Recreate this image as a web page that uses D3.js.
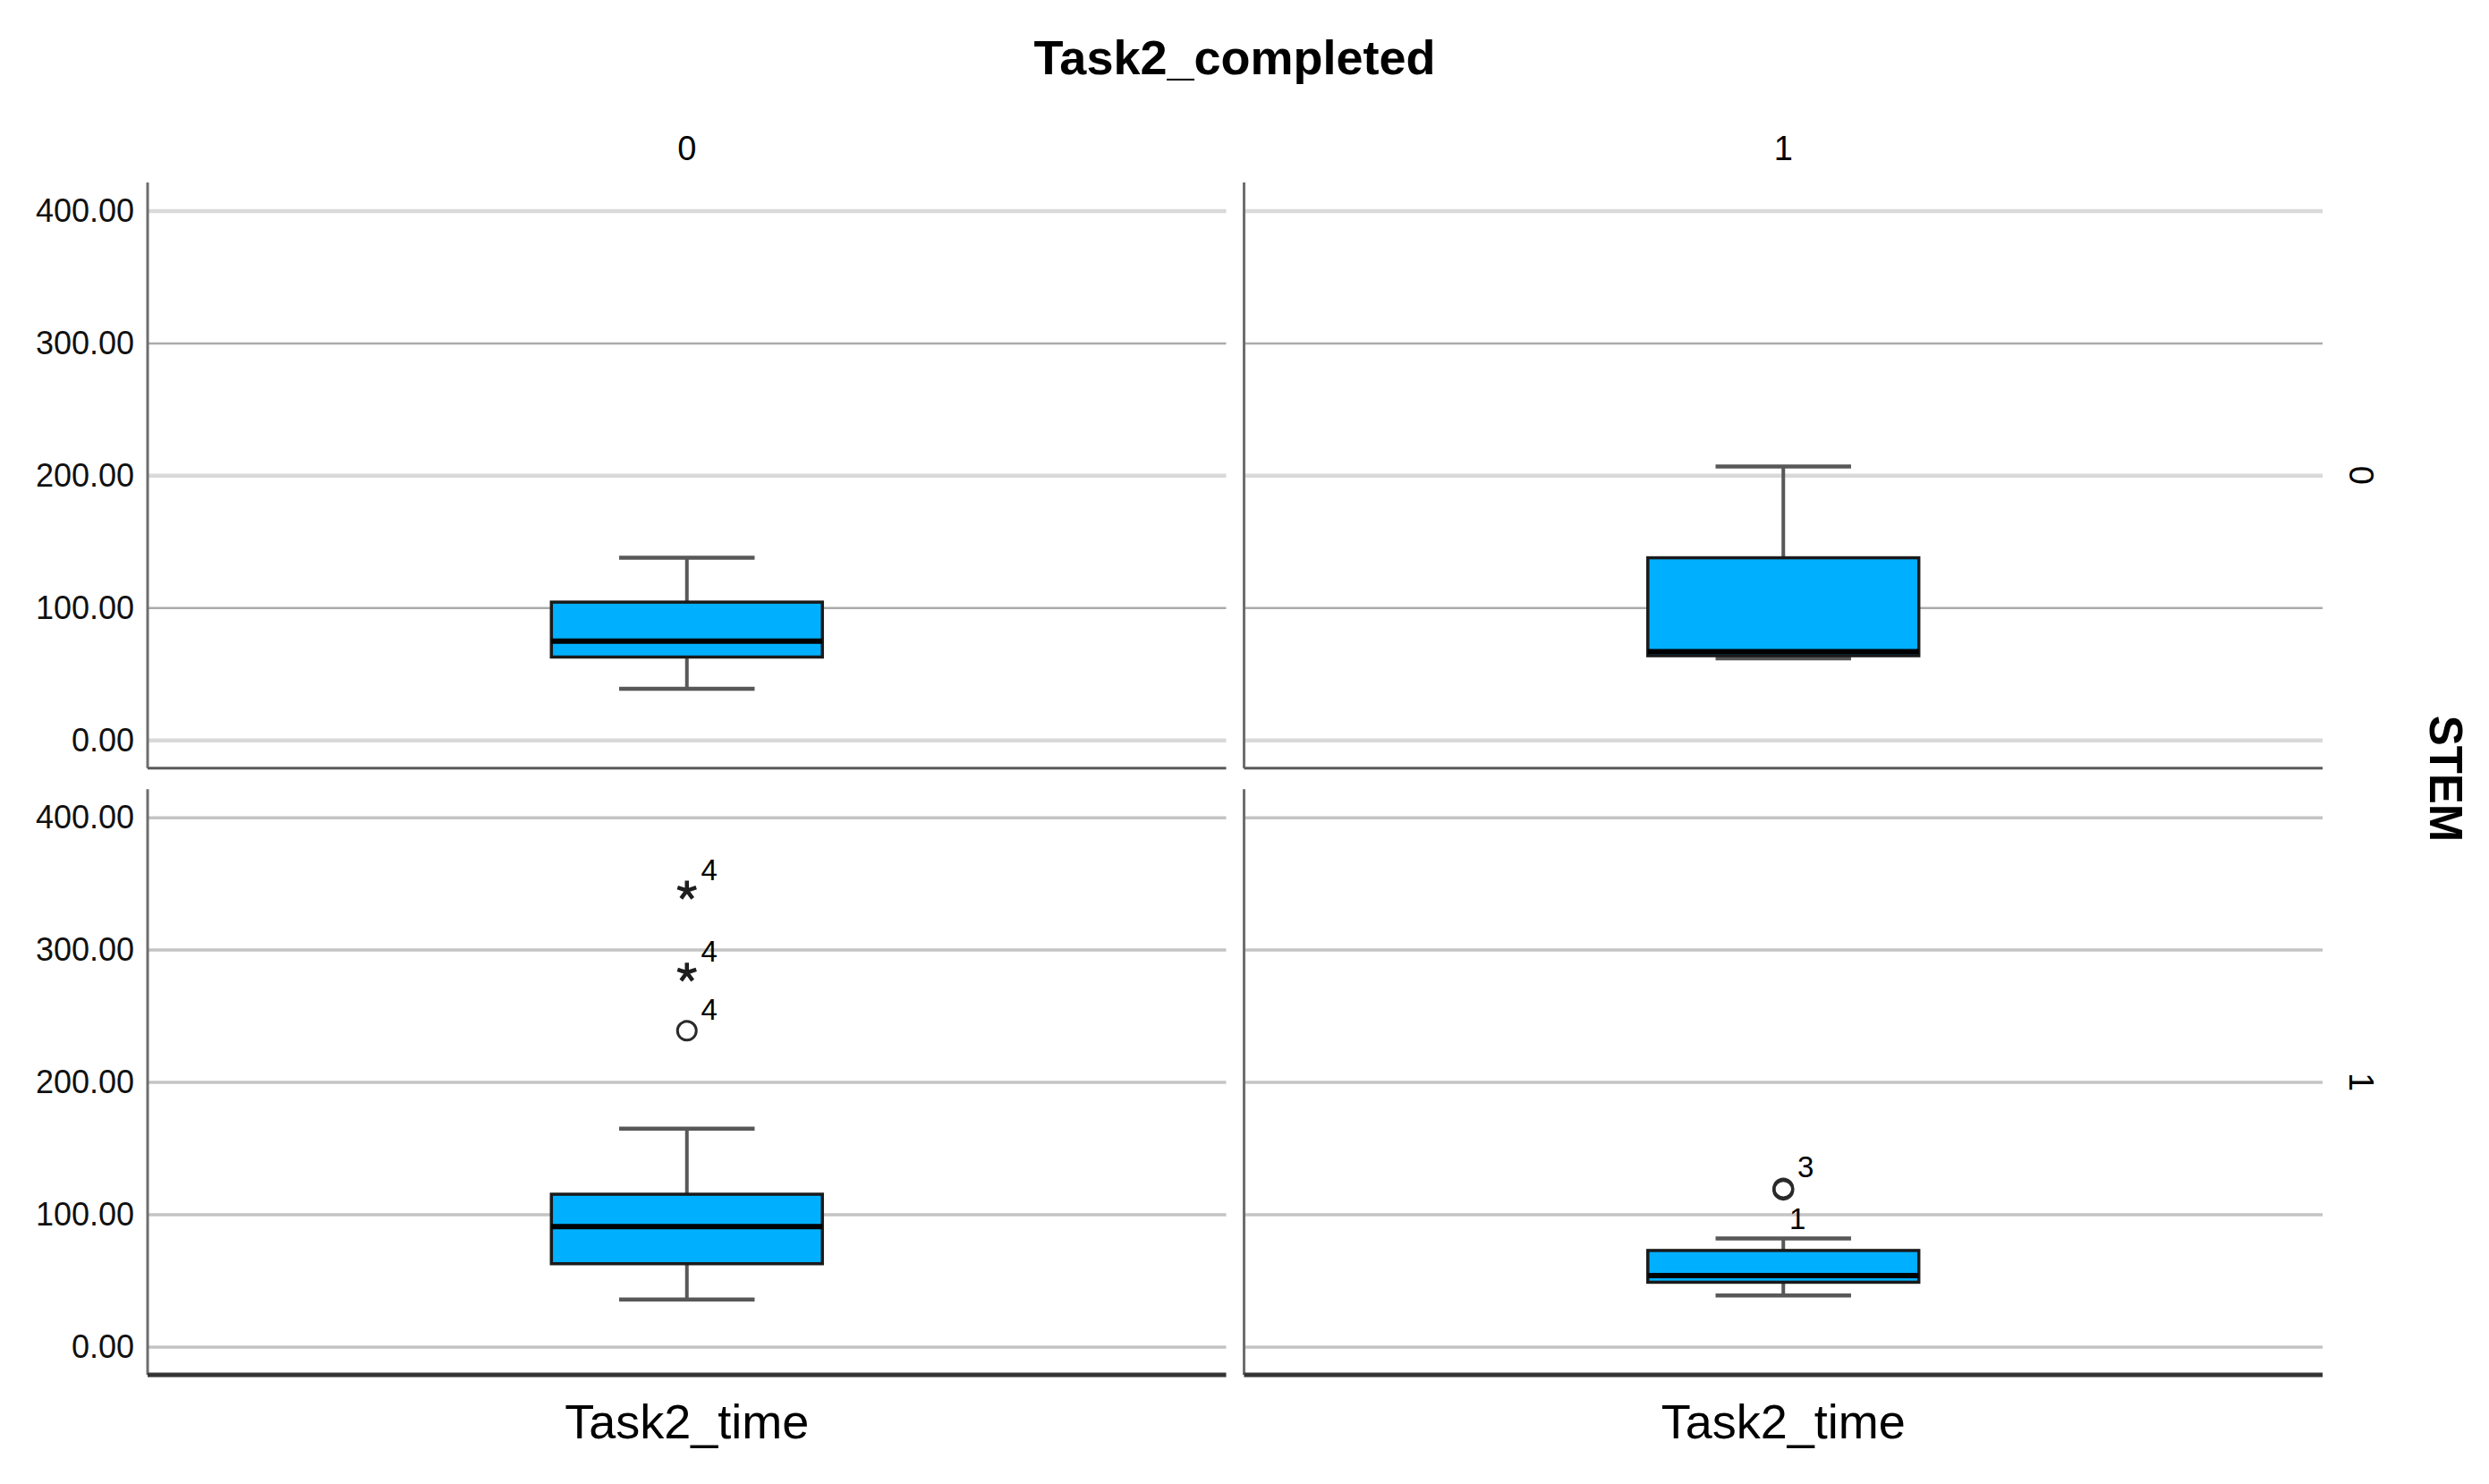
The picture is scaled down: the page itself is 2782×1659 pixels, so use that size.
<!DOCTYPE html>
<html><head><meta charset="utf-8">
<script src="https://cdn.jsdelivr.net/npm/d3@7"></script>
<style>
html,body{margin:0;padding:0;background:#fff;}
svg{display:block;font-family:"Liberation Sans",Arial,sans-serif;}
</style></head>
<body>
<svg id="chart" width="2782" height="1659"></svg>
<script>
// ---- data ----
const title = "Task2_completed";
const rowTitle = "STEM";
const completedCats = ["0", "1"];
const stemCats = ["0", "1"];
const variableName = ["Task2_time"];
const yTicks = [0, 100, 200, 300, 400];
// panels in order: (STEM 0, completed 0), (STEM 0, completed 1), (STEM 1, completed 0), (STEM 1, completed 1)
const panelStem = ["0", "0", "1", "1"];
const panelCompleted = ["0", "1", "0", "1"];
const whiskerMin = [39, 62, 36, 39];
const q1 = [63, 64, 63, 49];
const median = [75, 67, 91, 54];
const q3 = [104.5, 138, 115.5, 73];
const whiskerMax = [138, 207, 165, 82];
// outliers
const outlierPanel = [2, 2, 2, 3, 3];
const outlierValue = [345, 283, 239, 120, 119];
const outlierType = ["extreme", "extreme", "mild", "mild", "mild"];
const outlierLabel = ["4", "4", "4", "3", "1"];

// ---- layout ----
const svg = d3.select("#chart");
const colX = d3.scaleBand().domain(completedCats).range([165, 2596]).paddingInner(40 / 2451);
const rowY = d3.scaleBand().domain(stemCats).range([204, 1537]).paddingInner(23 / 666);
const yDomain = [-21, 421.6];

const fmt = d3.format(".2f");

// title
svg.append("text").attr("x", 1380).attr("y", 83).attr("text-anchor", "middle")
  .attr("font-size", 54).attr("font-weight", "bold").attr("fill", "#000").text(title);

completedCats.forEach(c => {
  svg.append("text").attr("x", colX(c) + colX.bandwidth() / 2).attr("y", 179)
    .attr("text-anchor", "middle").attr("font-size", 38).attr("fill", "#000").text(c);
  svg.append("text").attr("x", colX(c) + colX.bandwidth() / 2).attr("y", 1608)
    .attr("text-anchor", "middle").attr("font-size", 54).attr("fill", "#000").text(variableName[0]);
});

stemCats.forEach(s => {
  const cy = rowY(s) + rowY.bandwidth() / 2;
  svg.append("text").attr("transform", `translate(2626,${cy}) rotate(90)`)
    .attr("text-anchor", "middle").attr("font-size", 38).attr("fill", "#000").text(s);
});
svg.append("text").attr("transform", `translate(2716,${(204 + 1537) / 2}) rotate(90)`)
  .attr("text-anchor", "middle").attr("font-size", 51).attr("font-weight", "bold").attr("fill", "#000").text(rowTitle);

// panels
const yScales = {};
stemCats.forEach(s => {
  yScales[s] = d3.scaleLinear().domain(yDomain).range([rowY(s) + rowY.bandwidth(), rowY(s)]);
});

panelStem.forEach((s, i) => {
  const c = panelCompleted[i];
  const y = yScales[s];
  const x0 = colX(c), x1 = colX(c) + colX.bandwidth();
  const g = svg.append("g");
  const top = s === stemCats[0];

  // gridlines
  g.selectAll("line.grid").data(yTicks).enter().append("line")
    .attr("x1", x0).attr("x2", x1).attr("y1", d => y(d)).attr("y2", d => y(d))
    .attr("stroke", (d, k) => top ? (k % 2 === 0 ? "#d9d9d9" : "#ababab") : "#c4c4c4")
    .attr("stroke-width", (d, k) => top ? (k % 2 === 0 ? 4.5 : 2.5) : 3.5);

  // y axis labels on first column
  if (c === completedCats[0]) {
    const ax = d3.axisLeft(y).tickValues(yTicks).tickFormat(fmt).tickSize(0).tickPadding(15);
    const ag = svg.append("g").attr("transform", `translate(${x0},0)`).call(ax);
    ag.select(".domain").remove();
    ag.selectAll("text").attr("font-size", 36).attr("fill", "#111").attr("font-family", "Liberation Sans, Arial, sans-serif");
  }
  // axis lines
  g.append("line").attr("x1", x0).attr("x2", x0).attr("y1", y.range()[1]).attr("y2", y.range()[0])
    .attr("stroke", "#6e6e6e").attr("stroke-width", 3);
  g.append("line").attr("x1", x0).attr("x2", x1).attr("y1", y.range()[0]).attr("y2", y.range()[0])
    .attr("stroke", top ? "#5a5a5a" : "#353535").attr("stroke-width", top ? 3 : 5);

  // box
  const bx = d3.scaleBand().domain(variableName).range([x0, x1]).paddingInner(0).paddingOuter(1.49);
  const v = variableName[0];
  const bl = bx(v), bw = bx.bandwidth(), cx = bl + bw / 2, cap = bw / 2;

  const wStroke = "#585858";
  g.append("line").attr("x1", cx).attr("x2", cx).attr("y1", y(whiskerMax[i])).attr("y2", y(q3[i]))
    .attr("stroke", wStroke).attr("stroke-width", 4);
  g.append("line").attr("x1", cx).attr("x2", cx).attr("y1", y(q1[i])).attr("y2", y(whiskerMin[i]))
    .attr("stroke", wStroke).attr("stroke-width", 4);
  [whiskerMax[i], whiskerMin[i]].forEach(w => {
    g.append("line").attr("x1", cx - cap / 2).attr("x2", cx + cap / 2).attr("y1", y(w)).attr("y2", y(w))
      .attr("stroke", wStroke).attr("stroke-width", 4.5);
  });
  g.append("rect").attr("x", bl).attr("width", bw).attr("y", y(q3[i])).attr("height", y(q1[i]) - y(q3[i]))
    .attr("fill", "#00b0ff").attr("stroke", "#1a1a1a").attr("stroke-width", 3.5);
  g.append("line").attr("x1", bl).attr("x2", bl + bw).attr("y1", y(median[i])).attr("y2", y(median[i]))
    .attr("stroke", "#000").attr("stroke-width", 6);

  // outliers
  outlierPanel.forEach((p, k) => {
    if (p !== i) return;
    const oy = y(outlierValue[k]);
    // a label whose point sits close below an earlier one is placed underneath it
    const crowded = outlierPanel.some((pp, j) => j < k && pp === p && Math.abs(outlierValue[j] - outlierValue[k]) < 5);
    if (outlierType[k] === "extreme") {
      const r = 11;
      const spokes = d3.range(5).map(a => -Math.PI / 2 + a * 2 * Math.PI / 5);
      g.append("path").attr("d", spokes.map(a => `M${cx},${oy}L${cx + r * Math.cos(a)},${oy + r * Math.sin(a)}`).join(""))
        .attr("stroke", "#1e1e1e").attr("stroke-width", 4.5).attr("stroke-linecap", "butt");
    } else {
      g.append("circle").attr("cx", cx).attr("cy", oy).attr("r", 10.5)
        .attr("fill", "none").attr("stroke", "#2a2a2a").attr("stroke-width", crowded ? 3.5 : 3);
    }
    if (crowded) {
      g.append("text").attr("x", cx + 16).attr("y", oy + 44).attr("text-anchor", "middle")
        .attr("font-size", 33).attr("fill", "#000").text(outlierLabel[k]);
    } else {
      g.append("text").attr("x", cx + 25).attr("y", oy - 12).attr("text-anchor", "middle")
        .attr("font-size", 33).attr("fill", "#000").text(outlierLabel[k]);
    }
  });
});
</script>
</body></html>
